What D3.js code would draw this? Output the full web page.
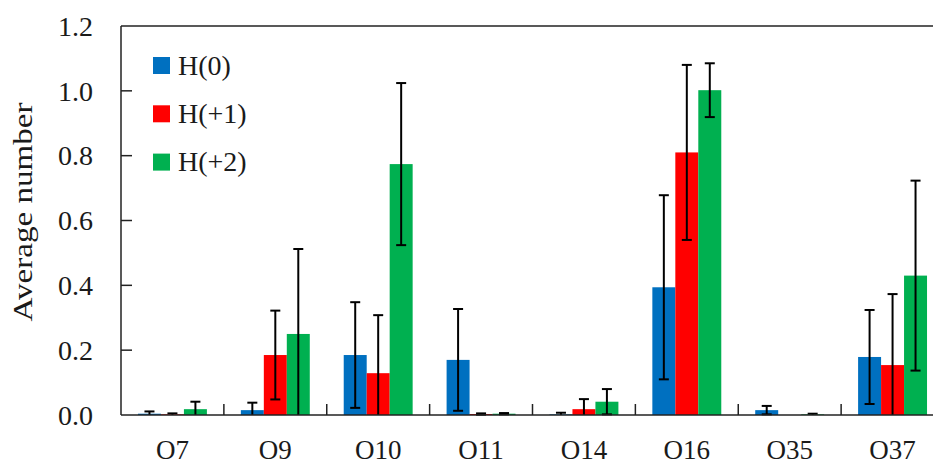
<!DOCTYPE html>
<html>
<head>
<meta charset="utf-8"/>
<title>Average number</title>
<script src="https://d3js.org/d3.v7.min.js"></script>
<style>
  body { margin: 0; background: #fff; }
  svg text { font-family: 'Liberation Serif', 'Times New Roman', serif; fill: #1a1a1a; }
</style>
</head>
<body>
<div id="chart"></div>
<script>
// data
var categories = ["O7", "O9", "O10", "O11", "O14", "O16", "O35", "O37"];
var seriesNames = ["H(0)", "H(+1)", "H(+2)"];
var seriesColors = ["#0070C0", "#FF0000", "#00B050"];
var h0    = [0.004, 0.015, 0.185, 0.170, 0.002, 0.394, 0.015, 0.179];
var h0Err = [0.007, 0.023, 0.163, 0.157, 0.005, 0.284, 0.013, 0.145];
var h1    = [0.002, 0.185, 0.129, 0.003, 0.018, 0.810, 0.000, 0.154];
var h1Err = [0.003, 0.137, 0.179, 0.002, 0.031, 0.270, 0.000, 0.219];
var h2    = [0.018, 0.250, 0.774, 0.004, 0.041, 1.002, 0.002, 0.430];
var h2Err = [0.023, 0.262, 0.250, 0.002, 0.039, 0.083, 0.002, 0.293];
var yTicks = [0, 0.2, 0.4, 0.6, 0.8, 1.0, 1.2];

var width = 933, height = 467;
var plotLeft = 121, plotRight = 944, plotTop = 26, plotBottom = 415;

var values = [h0, h1, h2], errs = [h0Err, h1Err, h2Err];
var rows = [];
categories.forEach(function(c, i) {
  seriesNames.forEach(function(s, j) {
    rows.push({cat: c, series: s, idx: j, v: values[j][i], e: errs[j][i]});
  });
});

var svg = d3.select("#chart").append("svg")
  .attr("width", width).attr("height", height);

var x = d3.scaleBand().domain(categories).range([plotLeft, plotRight]).padding(0);
var bw = x.bandwidth();
var xs = d3.scaleBand().domain(seriesNames).range([bw * 0.165, bw * 0.835]).padding(0);
var y = d3.scaleLinear().domain([0, 1.2]).range([plotBottom, plotTop]);

// bars
svg.selectAll("rect.bar").data(rows).enter().append("rect")
  .attr("class", "bar")
  .attr("x", function(d) { return x(d.cat) + xs(d.series); })
  .attr("y", function(d) { return y(d.v); })
  .attr("width", xs.bandwidth())
  .attr("height", function(d) { return y(0) - y(d.v); })
  .attr("fill", function(d) { return seriesColors[d.idx]; });

// error bars (clipped at zero)
var eb = svg.selectAll("g.err").data(rows.filter(function(d) { return d.e > 0; }))
  .enter().append("g").attr("class", "err")
  .attr("stroke", "#000").attr("stroke-width", 2);
function cx(d) { return x(d.cat) + xs(d.series) + xs.bandwidth() / 2; }
eb.append("line")
  .attr("x1", cx).attr("x2", cx)
  .attr("y1", function(d) { return y(d.v + d.e); })
  .attr("y2", function(d) { return y(Math.max(0, d.v - d.e)); });
eb.append("line")
  .attr("x1", function(d) { return cx(d) - 5; }).attr("x2", function(d) { return cx(d) + 5; })
  .attr("y1", function(d) { return y(d.v + d.e); })
  .attr("y2", function(d) { return y(d.v + d.e); });
eb.filter(function(d) { return d.v - d.e > 0; }).append("line")
  .attr("x1", function(d) { return cx(d) - 5; }).attr("x2", function(d) { return cx(d) + 5; })
  .attr("y1", function(d) { return y(d.v - d.e); })
  .attr("y2", function(d) { return y(d.v - d.e); });

// frame / axes
var axisColor = "#222";
svg.append("line").attr("x1", plotLeft).attr("x2", plotLeft).attr("y1", plotTop).attr("y2", plotBottom)
  .attr("stroke", axisColor).attr("stroke-width", 1.5);
svg.append("line").attr("x1", plotLeft).attr("x2", plotRight).attr("y1", plotTop).attr("y2", plotTop)
  .attr("stroke", axisColor).attr("stroke-width", 1.5);
svg.append("line").attr("x1", plotLeft).attr("x2", plotRight).attr("y1", plotBottom).attr("y2", plotBottom)
  .attr("stroke", axisColor).attr("stroke-width", 1.5);

// y ticks (inward) and labels
svg.selectAll("line.ytick").data(yTicks.filter(function(t) { return t > 0 && t < 1.2; }))
  .enter().append("line").attr("class", "ytick")
  .attr("x1", plotLeft).attr("x2", plotLeft + 11)
  .attr("y1", function(d) { return y(d); }).attr("y2", function(d) { return y(d); })
  .attr("stroke", axisColor).attr("stroke-width", 1.5);
svg.selectAll("text.ylab").data(yTicks).enter().append("text")
  .attr("class", "ylab")
  .attr("x", 93).attr("y", function(d) { return y(d); })
  .attr("dy", "0.35em")
  .attr("text-anchor", "end")
  .style("font-size", "28px")
  .text(function(d) { return d.toFixed(1); });

// x ticks between categories (inward)
svg.selectAll("line.xtick").data(categories.slice(1))
  .enter().append("line").attr("class", "xtick")
  .attr("x1", function(d) { return x(d); }).attr("x2", function(d) { return x(d); })
  .attr("y1", plotBottom).attr("y2", plotBottom - 11)
  .attr("stroke", axisColor).attr("stroke-width", 1.5);
svg.selectAll("text.xlab").data(categories).enter().append("text")
  .attr("class", "xlab")
  .attr("x", function(d) { return x(d) + bw / 2; })
  .attr("y", 459)
  .attr("text-anchor", "middle")
  .style("font-size", "27px")
  .text(function(d) { return d; });

// axis title
svg.append("text")
  .attr("transform", "translate(32," + 212 + ") rotate(-90)")
  .attr("text-anchor", "middle")
  .attr("textLength", 219)
  .attr("lengthAdjust", "spacingAndGlyphs")
  .style("font-size", "28px")
  .text("Average number");

// legend
var legend = svg.selectAll("g.legend").data(seriesNames).enter().append("g")
  .attr("class", "legend")
  .attr("transform", function(d, i) { return "translate(153," + (57 + i * 48.3) + ")"; });
legend.append("rect").attr("width", 17).attr("height", 17)
  .attr("fill", function(d, i) { return seriesColors[i]; });
legend.append("text").attr("x", 25).attr("y", 17.5)
  .style("font-size", "28px")
  .text(function(d) { return d; });
</script>
</body>
</html>
